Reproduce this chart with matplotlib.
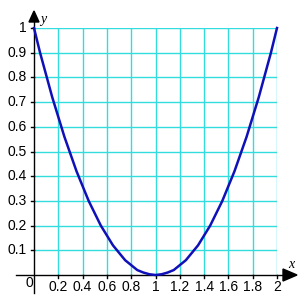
import matplotlib
matplotlib.use("Agg")
import matplotlib.pyplot as plt
from matplotlib.patches import Polygon

# Data
x_vals = [0.0, 0.05, 0.1, 0.15, 0.2, 0.25, 0.3, 0.35, 0.4, 0.45, 0.5,
          0.55, 0.6, 0.65, 0.7, 0.75, 0.8, 0.85, 0.9, 0.95, 1.0,
          1.05, 1.1, 1.15, 1.2, 1.25, 1.3, 1.35, 1.4, 1.45, 1.5,
          1.55, 1.6, 1.65, 1.7, 1.75, 1.8, 1.85, 1.9, 1.95, 2.0]
y_vals = [1.0, 0.90, 0.81, 0.72, 0.64, 0.56, 0.49, 0.42, 0.36, 0.30, 0.25,
          0.20, 0.16, 0.12, 0.09, 0.06, 0.04, 0.02, 0.01, 0.003, 0.0,
          0.003, 0.01, 0.02, 0.04, 0.06, 0.09, 0.12, 0.16, 0.20, 0.25,
          0.30, 0.36, 0.42, 0.49, 0.56, 0.64, 0.72, 0.81, 0.90, 1.0]
x_ticks = [0.2, 0.4, 0.6, 0.8, 1, 1.2, 1.4, 1.6, 1.8, 2]
x_tick_labels = ["0.2", "0.4", "0.6", "0.8", "1", "1.2", "1.4", "1.6", "1.8", "2"]
y_ticks = [0.1, 0.2, 0.3, 0.4, 0.5, 0.6, 0.7, 0.8, 0.9, 1]
y_tick_labels = ["0.1", "0.2", "0.3", "0.4", "0.5", "0.6", "0.7", "0.8", "0.9", "1"]

plt.rcParams['font.family'] = ['Liberation Sans Narrow', 'Liberation Sans', 'DejaVu Sans']

W = 307
fig = plt.figure(figsize=(3.07, 3.07), dpi=100)
L, R, T, B = 34, 277, 28, 275
ax = fig.add_axes([L / W, (W - B) / W, (R - L) / W, (B - T) / W])
ax.set_xlim(0, 2)
ax.set_ylim(0, 1)
ax.axis('off')

px_x = 2 / (R - L)   # data units per pixel in x
px_y = 1 / (B - T)   # data units per pixel in y

grid_c = '#33dddd'
for xv in x_ticks:
    ax.plot([xv, xv], [0, 1], color=grid_c, lw=1.0, zorder=1)
for yv in y_ticks:
    ax.plot([0, 2], [yv, yv], color=grid_c, lw=1.0, zorder=1)

# axes lines
ax.plot([-18 * px_x, 2 + 8 * px_x], [0, 0], color='black', lw=1.0, clip_on=False, zorder=3)
ax.plot([0, 0], [-18 * px_y, 1 + 8 * px_y], color='black', lw=1.0, clip_on=False, zorder=3)

# ticks
for xv in x_ticks:
    ax.plot([xv, xv], [-3 * px_y, 0], color='black', lw=1.0, clip_on=False, zorder=3)
for yv in y_ticks:
    ax.plot([-3 * px_x, 0], [yv, yv], color='black', lw=1.0, clip_on=False, zorder=3)

# arrow heads
ya = Polygon([[-5 * px_x, 1 + 6 * px_y], [5 * px_x, 1 + 6 * px_y], [0, 1 + 17 * px_y]],
             closed=True, color='black', clip_on=False, zorder=4)
xa = Polygon([[2 + 6 * px_x, -6 * px_y], [2 + 6 * px_x, 6 * px_y], [2 + 20 * px_x, 0]],
             closed=True, color='black', clip_on=False, zorder=4)
ax.add_patch(ya)
ax.add_patch(xa)

# curve
ax.plot(x_vals, y_vals, color='#1010b8', lw=1.8, zorder=5, clip_on=False,
        solid_joinstyle='round')

fs = 10
for xv, lab in zip(x_ticks, x_tick_labels):
    ax.text(xv, -12 * px_y, lab, ha='center', va='center', fontsize=fs)
for yv, lab in zip(y_ticks, y_tick_labels):
    ax.text(-7 * px_x, yv, lab, ha='right', va='center', fontsize=fs)
ax.text(-5 * px_x, -8 * px_y, "0", ha='center', va='center', fontsize=fs)
ax.text(9 * px_x, 1 + 8 * px_y, "y", ha='center', va='center', fontsize=fs,
        style='italic', family=['Liberation Serif', 'DejaVu Serif'])
ax.text(2 + 14 * px_x, 11 * px_y, "x", ha='center', va='center', fontsize=fs,
        style='italic', family=['Liberation Serif', 'DejaVu Serif'])

fig.savefig('out.png', dpi=100)
